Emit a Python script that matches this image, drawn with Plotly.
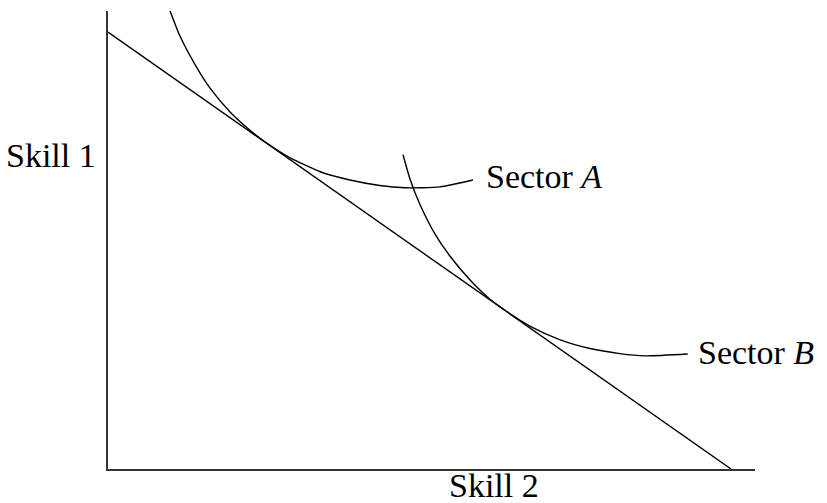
import plotly.graph_objects as go

# Budget line between the two skill endowments (Skill 2 on x, Skill 1 on y)
budget_x = [0.0, 9.63]
budget_y = [9.54, 0.0]

# Isoquant of sector A
sector_a_x = [0.88, 0.96, 1.11, 1.35, 1.58, 1.89, 2.20, 2.43, 2.81, 3.28, 3.74, 4.20, 4.59, 5.13, 5.64]
sector_a_y = [10.31, 10.0, 9.46, 8.82, 8.31, 7.79, 7.39, 7.14, 6.80, 6.49, 6.31, 6.19, 6.14, 6.16, 6.31]

# Isoquant of sector B
sector_b_x = [4.56, 4.67, 4.82, 5.05, 5.29, 5.60, 5.90, 6.14, 6.52, 6.99, 7.45, 7.91, 8.30, 8.96]
sector_b_y = [6.86, 6.32, 5.78, 5.14, 4.64, 4.12, 3.71, 3.46, 3.12, 2.82, 2.63, 2.52, 2.47, 2.51]

axis_titles = ["Skill 2", "Skill 1"]
curve_labels = ["Sector <i>A</i>", "Sector <i>B</i>"]

FONT = "Liberation Serif"
INK = "black"

fig = go.Figure()
fig.add_trace(go.Scatter(x=budget_x, y=budget_y, mode="lines",
                         line=dict(color=INK, width=1.4), hoverinfo="skip"))
for xs, ys in ((sector_a_x, sector_a_y), (sector_b_x, sector_b_y)):
    fig.add_trace(go.Scatter(x=xs, y=ys, mode="lines",
                             line=dict(color=INK, width=1.4, shape="spline", smoothing=0.6),
                             hoverinfo="skip"))

label_font = dict(family=FONT, size=34, color=INK)

# Curve labels next to the right end of each isoquant
fig.add_annotation(x=sector_a_x[-1], y=sector_a_y[-1], xref="x", yref="y",
                   text=curve_labels[0], showarrow=False, xanchor="left",
                   xshift=11, yshift=4, font=label_font)
fig.add_annotation(x=sector_b_x[-1], y=sector_b_y[-1], xref="x", yref="y",
                   text=curve_labels[1], showarrow=False, xanchor="left",
                   xshift=8, yshift=2, font=label_font)

# Axis titles
fig.add_annotation(x=0.597, y=0, xref="paper", yref="paper", text=axis_titles[0],
                   showarrow=False, xanchor="center", yanchor="top", yshift=4,
                   font=label_font)
fig.add_annotation(x=0, y=6.85, xref="paper", yref="y", text=axis_titles[1],
                   showarrow=False, xanchor="right", yanchor="middle", xshift=-10,
                   font=label_font)

axis_common = dict(showgrid=False, zeroline=False, showticklabels=False, ticks="",
                   showline=True, linecolor="#333333", linewidth=1.8, mirror=False,
                   fixedrange=True)
fig.update_xaxes(range=[0, 10], **axis_common)
fig.update_yaxes(range=[0, 10], **axis_common)

fig.update_layout(
    width=827, height=503,
    margin=dict(l=108, r=72, t=11, b=34),
    paper_bgcolor="white", plot_bgcolor="white",
    showlegend=False,
)

fig.write_html("out.html")
